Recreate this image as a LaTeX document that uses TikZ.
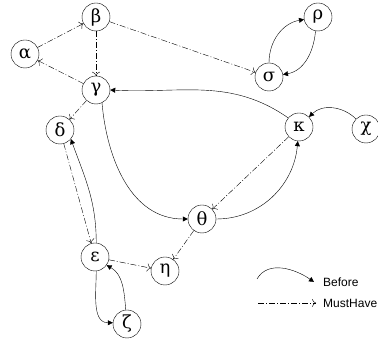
\documentclass[tikz,border=0pt]{standalone}
\usepackage{fontspec}
\newfontfamily\legendfont{Liberation Sans}
\newfontfamily\greekfont{DejaVu Serif}
\usetikzlibrary{arrows.meta}

\begin{document}
\begin{tikzpicture}[x=1pt, y=-1pt, thin,
  state/.style={circle, draw, minimum size=28pt, inner sep=0pt, font=\greekfont\fontsize{18}{20}\selectfont},
  before/.style={-{Triangle[length=5pt, width=5pt]}},
  musthave/.style={-{To[length=4pt, width=8pt]}, dash pattern=on 6pt off 2pt on 1pt off 2pt}]

\useasboundingbox (0,0) rectangle (378,344);

% 
\node[state] (alpha) at (25, 54) {α};
\node[state] (beta) at (96, 17) {β};
\node[state] (gamma) at (96, 90) {γ};
\node[state] (delta) at (60, 130) {δ};
\node[state] (sigma) at (269, 77) {σ};
\node[state] (rho) at (318, 17) {ρ};
\node[state] (kappa) at (299, 127) {κ};
\node[state] (chi) at (366, 129) {χ};
\node[state] (theta) at (202, 219) {θ};
\node[state] (eps) at (95, 257) {ε};
\node[state] (eta) at (165, 271) {η};
\node[state] (zeta) at (127, 324) {ζ};

% 
\draw[musthave] (alpha) -- (beta);
\draw[musthave] (beta) -- (gamma);
\draw[musthave] (gamma) -- (alpha);
\draw[musthave] (beta) -- (sigma);
\draw[musthave] (gamma) -- (delta);
\draw[musthave] (delta) -- (eps);
\draw[musthave] (eps) -- (eta);
\draw[musthave] (theta) -- (eta);
\draw[musthave] (kappa) -- (theta);

% 
\draw[before] (rho.-100) to[out=-95, in=10] (sigma.10);
\draw[before] (sigma.90) to[out=90, in=190] (rho.190);
\draw[before] (kappa.140) to[out=145, in=-3] (gamma.0);
\draw[before] (chi.135) to[out=135, in=45] (kappa.45);
\draw[before] (gamma.-65) to[out=-85, in=180] (theta.180);
\draw[before] (theta.0) to[out=0, in=-95] (kappa.-95);
\draw[before] (eps.85) to[out=90, in=-70] (delta.-40);
\draw[before] (eps.-85) to[out=-90, in=180] (zeta.175);
\draw[before] (zeta.95) to[out=95, in=-30] (eps.-35);

% 
\coordinate (b1) at (257, 279);
\coordinate (b2) at (314, 282);
\coordinate (m1) at (258, 303);
\coordinate (m2) at (316, 303);
\draw[before] (b1) to[out=60, in=145] (b2);
\draw[musthave] (m1) -- (m2);
\node[anchor=west, inner sep=0pt, font=\legendfont\fontsize{12}{14}\selectfont] (lbefore) at (323, 282) {Before};
\node[anchor=west, inner sep=0pt, font=\legendfont\fontsize{12}{14}\selectfont] (lmust) at (323, 303) {MustHave};

\end{tikzpicture}
\end{document}
